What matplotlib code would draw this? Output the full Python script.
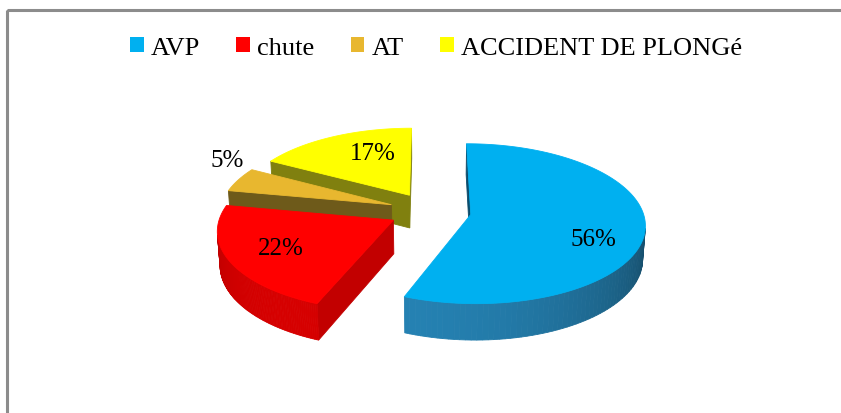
import numpy as np
import matplotlib
matplotlib.use('Agg')
import matplotlib.pyplot as plt
from matplotlib.patches import Polygon, Rectangle

plt.rcParams['font.family'] = ['Liberation Serif', 'DejaVu Serif']

# data
labels = ['AVP', 'chute', 'AT', 'ACCIDENT DE PLONGé']
values = [56, 22, 5, 17]
top_colors = ['#00B0F0', '#FF0000', '#E8B72F', '#FFFF00']
side_colors = ['#2582B3', '#D60000', '#6E5A1A', '#80800F']
wall_colors = ['#0B4C6C', '#C20000', '#6E5A1A', '#80800F']

# view (pixel space, y down)
W, H = 841, 414
cx, cy = 430, 212
S = 172.0
elev = np.radians(27)
D = 7.8
thick = 0.22
explode = 0.24
cam = np.array([0.0, -D * np.cos(elev), D * np.sin(elev)])

# label placement (radius from slice tip, height)
lab_r = [0.71, 0.70, 1.07, 0.45]
lab_z = [-0.09, 0.0, 0.12, 0.10]


def proj(X, Y, Z):
    v = Y * np.sin(elev) + Z * np.cos(elev)
    w = Y * np.cos(elev) - Z * np.sin(elev)
    f = D / (D + w)
    return cx + S * X * f, cy - S * v * f


def depth(X, Y, Z):
    return np.mean(np.asarray(Y) * np.cos(elev) - np.asarray(Z) * np.sin(elev))


def shade(color, k):
    c = np.array(matplotlib.colors.to_rgb(color))
    return tuple(np.clip(c * k, 0, 1))


fig = plt.figure(figsize=(W / 100, H / 100), dpi=100)
ax = fig.add_axes([0, 0, 1, 1])
ax.set_xlim(0, W)
ax.set_ylim(H, 0)
ax.axis('off')

# frame
ax.add_patch(Rectangle((7.5, 10.5), 1000, 600, fill=False, ec='#8C8C8C', lw=2.2))

total = sum(values)
starts = 90 - 360 * np.concatenate([[0], np.cumsum(values)[:-1]]) / total
ends = starts - 360 * np.array(values) / total

slices = []
for i in range(len(values)):
    a0, a1 = np.radians(starts[i]), np.radians(ends[i])
    mid = (a0 + a1) / 2
    ox, oy = explode * np.cos(mid), explode * np.sin(mid)
    slices.append((oy, i, a0, a1, mid, ox))

# back slices first
for oy, i, a0, a1, mid, ox in sorted(slices, key=lambda s: -s[0]):
    faces = []
    t = np.linspace(a1, a0, 120)
    # outer wall
    for k in range(len(t) - 1):
        tm = (t[k] + t[k + 1]) / 2
        n = np.array([np.cos(tm), np.sin(tm), 0])
        p = np.array([ox + np.cos(tm), oy + np.sin(tm), -thick / 2])
        if n @ (cam - p) <= 0:
            continue
        X = [ox + np.cos(t[k]), ox + np.cos(t[k + 1]), ox + np.cos(t[k + 1]), ox + np.cos(t[k])]
        Y = [oy + np.sin(t[k]), oy + np.sin(t[k + 1]), oy + np.sin(t[k + 1]), oy + np.sin(t[k])]
        Z = [0, 0, -thick, -thick]
        kf = 0.70 + 0.30 * np.cos(tm + np.radians(120))
        faces.append((depth(X, Y, Z), X, Y, Z, shade(side_colors[i], kf)))
    # radial walls
    for a, nd in [(a0, a0 + np.pi / 2), (a1, a1 - np.pi / 2)]:
        n = np.array([np.cos(nd), np.sin(nd), 0])
        p = np.array([ox + 0.5 * np.cos(a), oy + 0.5 * np.sin(a), -thick / 2])
        if n @ (cam - p) <= 0:
            continue
        X = [ox, ox + np.cos(a), ox + np.cos(a), ox]
        Y = [oy, oy + np.sin(a), oy + np.sin(a), oy]
        Z = [0, 0, -thick, -thick]
        faces.append((depth(X, Y, Z), X, Y, Z, wall_colors[i]))
    for _, X, Y, Z, col in sorted(faces, key=lambda f: -f[0]):
        sx, sy = proj(np.array(X), np.array(Y), np.array(Z))
        ax.add_patch(Polygon(np.column_stack([sx, sy]), closed=True, fc=col, ec=col, lw=0.6))
    # top face
    X = np.concatenate([[ox], ox + np.cos(t[::-1])])
    Y = np.concatenate([[oy], oy + np.sin(t[::-1])])
    sx, sy = proj(X, Y, np.zeros_like(X))
    ax.add_patch(Polygon(np.column_stack([sx, sy]), closed=True, fc=top_colors[i],
                         ec=top_colors[i], lw=0.6))

# data labels
for oy, i, a0, a1, mid, ox in slices:
    lx, ly = proj(ox + lab_r[i] * np.cos(mid), oy + lab_r[i] * np.sin(mid), lab_z[i])
    ax.text(lx, ly, f'{values[i]}%', ha='center', va='center', fontsize=18, color='black')

handles = [Rectangle((0, 0), 1, 1, fc=c, ec='none') for c in top_colors]
fig.legend(handles, labels, loc='center', bbox_to_anchor=(436 / W, 1 - 49 / H), ncol=4,
           frameon=False, fontsize=19, handlelength=0.53, handleheight=0.53,
           handletextpad=0.27, columnspacing=1.36, borderpad=0)

fig.savefig('out.png', dpi=100)
